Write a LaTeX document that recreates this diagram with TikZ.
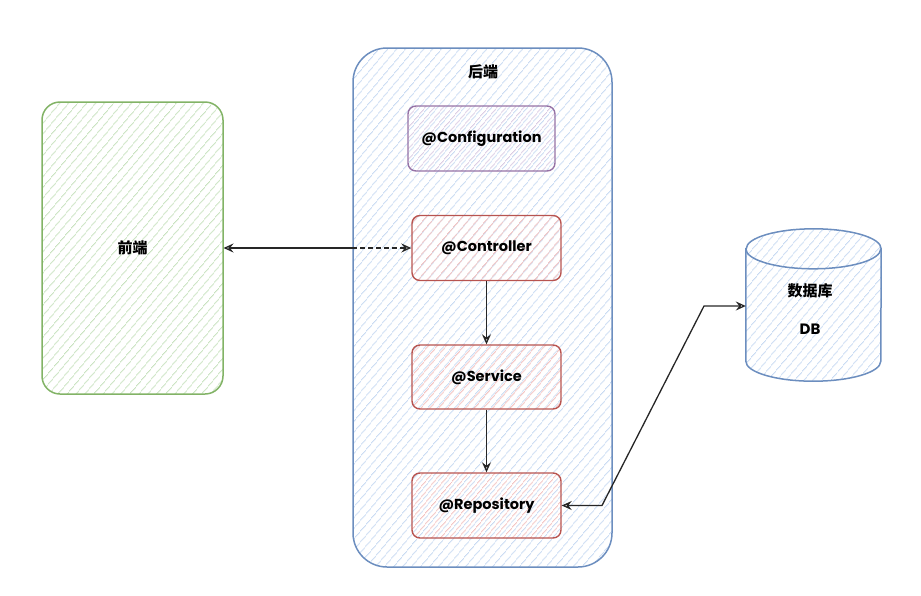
\documentclass[tikz,border=0pt]{standalone}
\usepackage{fontspec}
\setmainfont{Poppins}
\newfontfamily\cjk{Noto Sans CJK SC}
\usetikzlibrary{patterns.meta,arrows.meta,calc}
\definecolor{greenc}{HTML}{82B366}
\definecolor{bluec}{HTML}{6C8EBF}
\definecolor{redc}{HTML}{B85450}
\definecolor{purplec}{HTML}{9673A6}
\definecolor{greenh}{HTML}{C8E2BF}
\definecolor{blueh}{HTML}{C8DAF2}
\definecolor{redh}{HTML}{F3C2C0}
\definecolor{purpleh}{HTML}{DACBE3}
\newcommand{\lowered}[1]{\raisebox{-2.5pt}{#1}}
\tikzset{
  hatch/.style={pattern={Lines[angle=50,distance=6.5pt,line width=1pt]}},
  box/.style={draw, line width=1.4pt, rounded corners=8pt, hatch,
    minimum width=149pt, minimum height=65pt, inner sep=0pt,
    font=\bfseries\fontsize{14.5}{16}\selectfont},
  redbox/.style={box, draw=redc, pattern color=redh},
  purplebox/.style={box, draw=purplec, pattern color=purpleh},
  cjklabel/.style={font=\cjk\bfseries\fontsize{15}{17}\selectfont},
  conn/.style={line width=1.3pt, black!85},
  otip/.tip={Stealth[open, length=10pt, width=9pt, inset=3.5pt]},
}
\begin{document}
\begin{tikzpicture}[x=1pt,y=-1pt]
\useasboundingbox (0,0) rectangle (921,595);
% frontend
\node[draw=greenc, line width=1.5pt, rounded corners=18pt, hatch, pattern color=greenh,
  minimum width=181pt, minimum height=292pt, inner sep=0pt, cjklabel] (front) at (132.5,248) {前端};
% backend container
\node[draw=bluec, line width=1.5pt, rounded corners=34pt, hatch, pattern color=blueh,
  minimum width=259pt, minimum height=519pt, inner sep=0pt] (back) at (482.5,307.5) {};
\node[cjklabel] (backlbl) at (483,72) {后端};
% inner boxes
\node[purplebox, minimum width=147pt] (conf) at (481.5,138.5) {\lowered{@Configuration}};
\node[redbox] (ctrl) at (486.5,248) {\lowered{@Controller}};
\node[redbox, minimum height=64pt] (serv) at (486.5,377) {\lowered{@Service}};
\node[redbox] (repo) at (486.5,505.5) {\lowered{@Repository}};
% database cylinder
\node[minimum width=135pt, minimum height=152pt, inner sep=0pt] (db) at (813.5,305) {};
\draw[draw=bluec, line width=1.5pt, hatch, pattern color=blueh]
  ($(db.north west)+(0,20)$) -- ($(db.south west)+(0,-20)$)
  arc[start angle=180, end angle=360, x radius=67.5pt, y radius=20pt]
  -- ($(db.north east)+(0,20)$)
  arc[start angle=0, end angle=180, x radius=67.5pt, y radius=20pt] -- cycle;
\draw[draw=bluec, line width=1.5pt]
  ($(db.north west)+(0,20)$) arc[start angle=180, end angle=360, x radius=67.5pt, y radius=20pt];
\node[cjklabel] (dbname) at (810,291) {数据库};
\node[font=\bfseries\fontsize{15}{17}\selectfont] (dblbl) at (810,329) {DB};
% connectors
\coordinate (split) at (back.west |- front.east);
\draw[conn, otip-] (front.east) -- (split);
\draw[conn, dashed, dash pattern=on 5pt off 3pt, -otip] (split) -- (ctrl.west);
\draw[conn, -otip] (ctrl.south) -- (serv.north);
\draw[conn, -otip] (serv.south) -- (repo.north);
\coordinate (b1) at (602,505.5);
\coordinate (b2) at (704,306);
\draw[conn, otip-otip] (repo.east) -- (b1) -- (b2) -- (b2 -| db.west);
\end{tikzpicture}
\end{document}
